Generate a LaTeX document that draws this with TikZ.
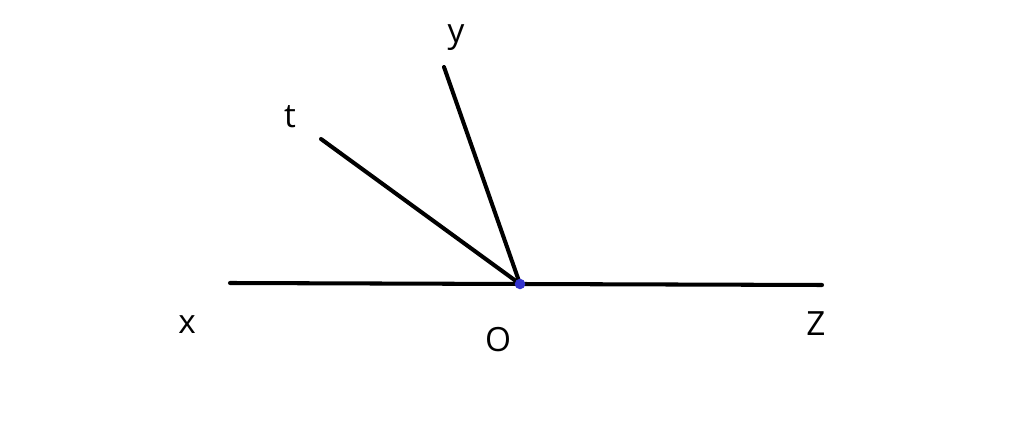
\documentclass[tikz,border=0pt]{standalone}
\usepackage{fontspec}
\setmainfont{Open Sans}
\usepackage{tikz}
\usepackage{xcolor}

\begin{document}
\begin{tikzpicture}[x=0.02cm,y=-0.02cm,
		ray/.style={line width=2.3pt,line cap=round},
		lbl/.style={font=\fontsize{19}{22}\selectfont,inner sep=0pt}]
		
		\useasboundingbox (0,0) rectangle (1024,428);
		
		% points
		\coordinate (O) at (520,284);
		\coordinate (X) at (230,283);
		\coordinate (Z) at (822,285);
		\coordinate (T) at (321,139);
		\coordinate (Y) at (444,67);
		
		% rays
		\draw [ray] (X) -- (O);
		\draw [ray] (O) -- (Z);
		\draw [ray] (O) -- (T);
		\draw [ray] (O) -- (Y);
		
		% point O
		\fill [blue!75!black!80] (O) circle (3pt);
		
		% labels
		\node [lbl] (lx) at (187,325) {x};
		\node [lbl] (lo) at (498,340) {O};
		\node [lbl] (lz) at (816,324) {Z};
		\node [lbl] (lt) at (290,117) {t};
		\node [lbl] (ly) at (456,38) {y};
		
\end{tikzpicture}
\end{document}
